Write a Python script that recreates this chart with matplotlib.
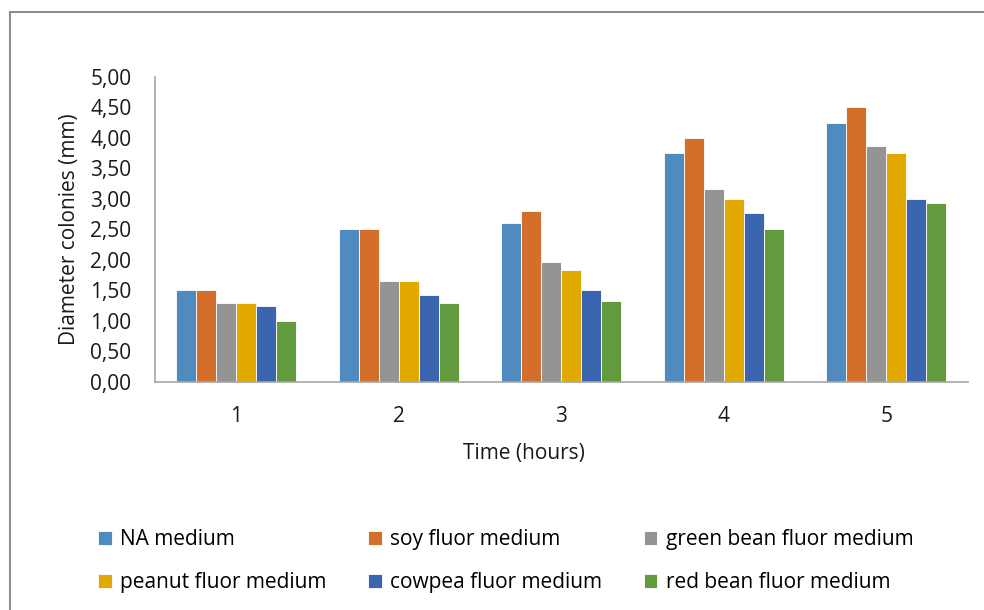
import matplotlib.pyplot as plt
import numpy as np
from matplotlib.lines import Line2D
from matplotlib.ticker import FuncFormatter

plt.rcParams['font.family'] = ['Open Sans', 'DejaVu Sans']

# Dados
tempos = ['1', '2', '3', '4', '5']
na_medium = [1.50, 2.50, 2.60, 3.75, 4.24]
soy_medium = [1.50, 2.50, 2.80, 4.00, 4.50]
green_bean_medium = [1.30, 1.66, 1.96, 3.17, 3.87]
peanut_medium = [1.30, 1.66, 1.84, 3.00, 3.75]
cowpea_medium = [1.25, 1.43, 1.51, 2.77, 3.00]
red_bean_medium = [1.00, 1.30, 1.33, 2.50, 2.94]

series = [
    ('NA medium', na_medium, '#4f8bbf'),
    ('soy fluor medium', soy_medium, '#d46f2b'),
    ('green bean fluor medium', green_bean_medium, '#949494'),
    ('peanut fluor medium', peanut_medium, '#e2aa00'),
    ('cowpea fluor medium', cowpea_medium, '#3b65ae'),
    ('red bean fluor medium', red_bean_medium, '#629a3e'),
]

fig = plt.figure(figsize=(9.84, 6.10), dpi=100)
ax = fig.add_axes([0.1575, 0.3738, 0.8258, 0.5])

x = np.arange(1, len(tempos) + 1)
width = 0.123
n = len(series)
bars = {}
for i, (nome, vals, cor) in enumerate(series):
    off = (i - (n - 1) / 2) * width
    bars[nome] = ax.bar(x + off, vals, width, color=cor, edgecolor='white',
                        linewidth=0.6, label=nome)

ax.set_xlim(0.5, 5.5)
ax.set_ylim(0, 5)
ax.set_yticks(np.arange(0, 5.01, 0.5))
ax.yaxis.set_major_formatter(FuncFormatter(lambda v, p: f'{v:.2f}'.replace('.', ',')))
ax.set_xticks(x)
ax.set_xticklabels(tempos)
ax.tick_params(axis='both', length=0, labelsize=15, colors='#1a1a1a')
ax.tick_params(axis='x', pad=17)
ax.tick_params(axis='y', pad=17)

for s in ['top', 'right']:
    ax.spines[s].set_visible(False)
for s in ['left', 'bottom']:
    ax.spines[s].set_color('#a6a6a6')
    ax.spines[s].set_linewidth(1.2)

ax.set_xlabel('Time (hours)', fontsize=15, color='#1a1a1a')
ax.set_ylabel('Diameter colonies (mm)', fontsize=15, color='#1a1a1a')
ax.xaxis.set_label_coords(0.454, -0.199)
ax.yaxis.set_label_coords(-0.092, 0.5)

# Legenda (ordem por linhas)
ordem = [0, 3, 1, 4, 2, 5]
hs = [bars[series[i][0]] for i in ordem]
ls = [series[i][0] for i in ordem]
fig.legend(hs, ls, ncol=3, loc='upper left', bbox_to_anchor=(0.100, 0.132),
           frameon=False, fontsize=15, handlelength=0.65, handleheight=0.65,
           handletextpad=0.4, columnspacing=2.0, labelspacing=1.05,
           borderpad=0, borderaxespad=0)

# Moldura do gráfico
fig.add_artist(Line2D([10/984, 1], [1 - 12/610, 1 - 12/610], color='#8c8c8c', lw=1.5,
                      transform=fig.transFigure))
fig.add_artist(Line2D([10/984, 10/984], [0, 1 - 12/610], color='#8c8c8c', lw=1.5,
                      transform=fig.transFigure))

fig.savefig('out.png', dpi=100)
